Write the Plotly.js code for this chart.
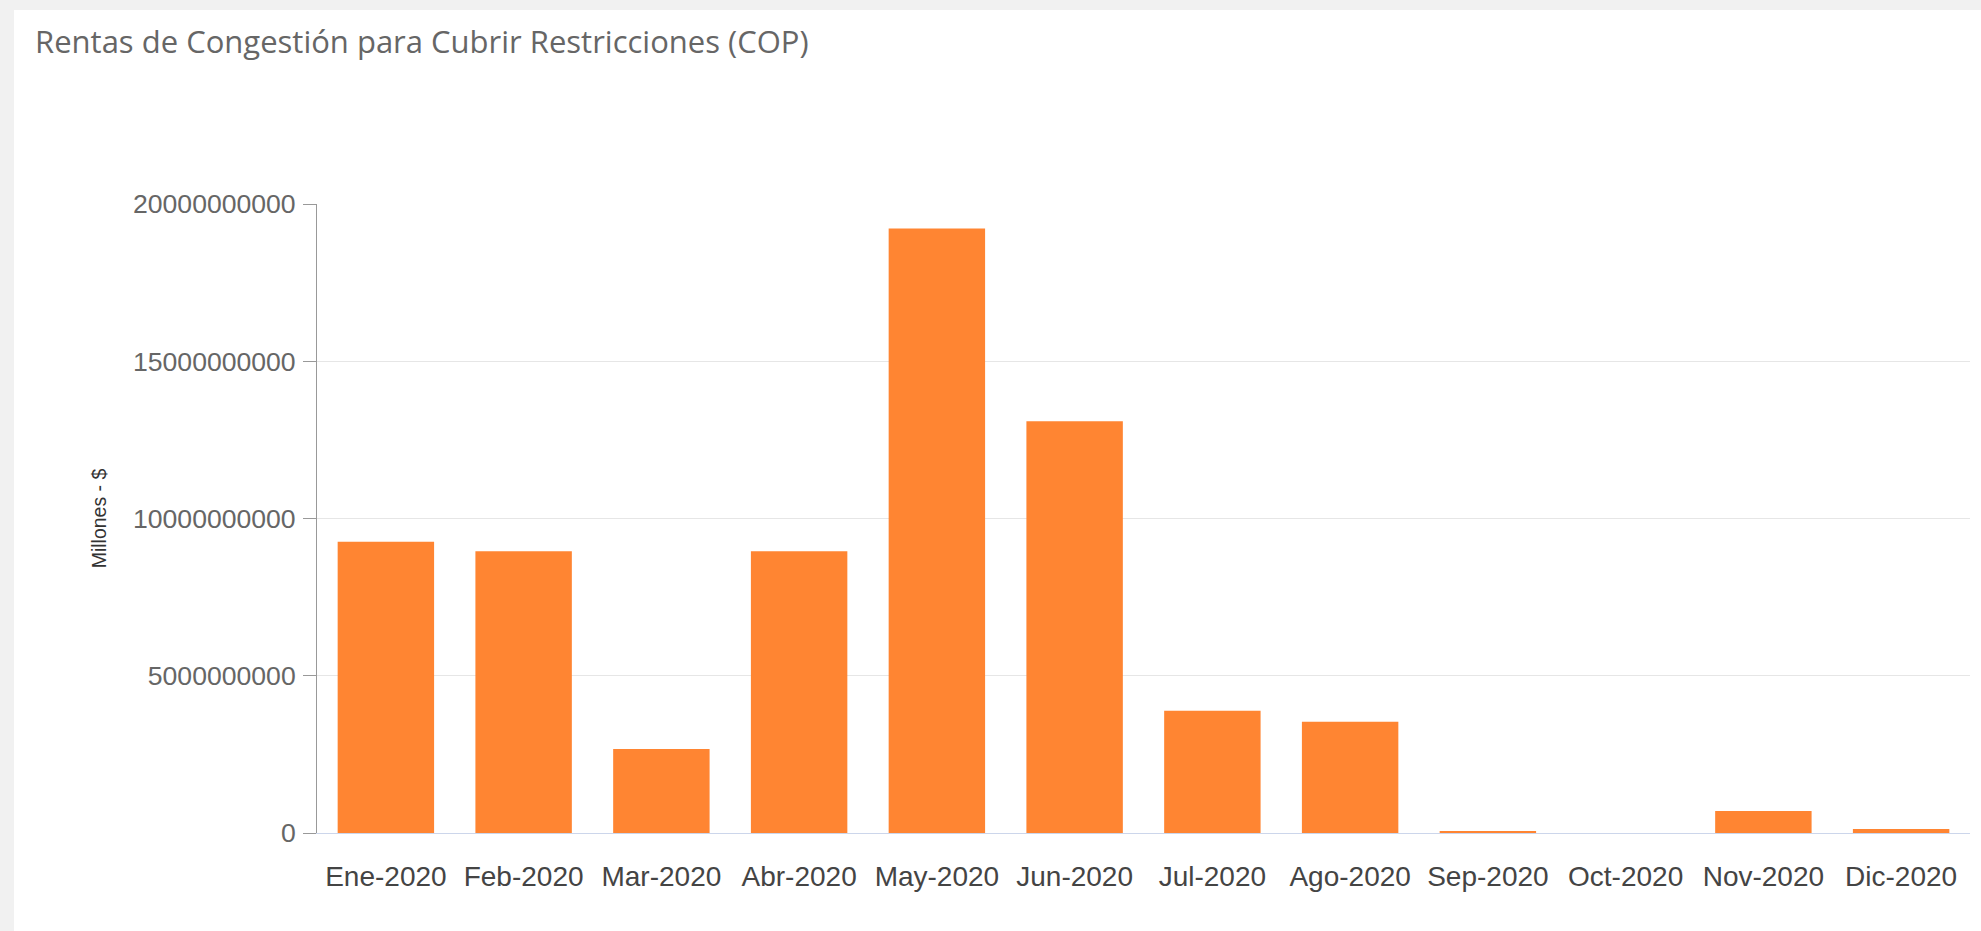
<!DOCTYPE html>
<html>
<head>
<meta charset="utf-8">
<script src="https://cdn.plot.ly/plotly-3.0.1.min.js"></script>
<style>
  html, body { margin: 0; padding: 0; background: #f1f1f1; width: 1981px; height: 931px; overflow: hidden; }
  #chart { position: absolute; left: 14px; top: 10px; width: 1967px; height: 921px; background: #ffffff; }
</style>
</head>
<body>
<div id="chart"></div>
<script>
const categories = ["Ene-2020", "Feb-2020", "Mar-2020", "Abr-2020", "May-2020", "Jun-2020",
                    "Jul-2020", "Ago-2020", "Sep-2020", "Oct-2020", "Nov-2020", "Dic-2020"];
const rentas = [9260000000, 8960000000, 2670000000, 8960000000, 19220000000, 13090000000,
                3890000000, 3540000000, 60000000, 0, 700000000, 130000000];
const titleText = "Rentas de Congestión para Cubrir Restricciones (COP)";
const yTitle = "Millones - $";
const yTicks = [0, 5000000000, 10000000000, 15000000000, 20000000000];

const trace = {
  type: "bar",
  x: categories,
  y: rentas,
  marker: { color: "#ff8532" },
  hoverinfo: "x+y"
};

const layout = {
  width: 1967,
  height: 921,
  paper_bgcolor: "#ffffff",
  plot_bgcolor: "#ffffff",
  margin: { l: 303, r: 11, t: 194, b: 98 },
  bargap: 0.3,
  showlegend: false,
  title: {
    text: titleText,
    x: 0.0107, xref: "container", xanchor: "left",
    y: 1 - 32 / 921, yref: "container", yanchor: "middle",
    font: { family: "Open Sans, sans-serif", size: 31, color: "#666666" }
  },
  xaxis: {
    type: "category",
    showgrid: false,
    showline: true,
    linecolor: "#ccd6eb",
    linewidth: 1,
    ticks: "",
    ticklabelstandoff: 18,
    tickfont: { family: "Liberation Sans, Arial, sans-serif", size: 28, color: "#444444" },
    zeroline: false
  },
  yaxis: {
    range: [0, 20000000000],
    tickvals: yTicks,
    tickformat: "d",
    showgrid: true,
    gridcolor: "#e6e6e6",
    gridwidth: 1,
    showline: true,
    linecolor: "#999999",
    linewidth: 1,
    ticks: "outside",
    ticklen: 13,
    tickcolor: "#999999",
    ticklabelstandoff: 2,
    zeroline: false,
    tickfont: { family: "Liberation Sans, Arial, sans-serif", size: 26.6, color: "#666666" },
    title: {
      text: yTitle,
      standoff: 21,
      font: { family: "Liberation Sans, Arial, sans-serif", size: 19.5, color: "#333333" }
    }
  }
};

Plotly.newPlot("chart", [trace], layout, { displayModeBar: false, responsive: false });
</script>
</body>
</html>
